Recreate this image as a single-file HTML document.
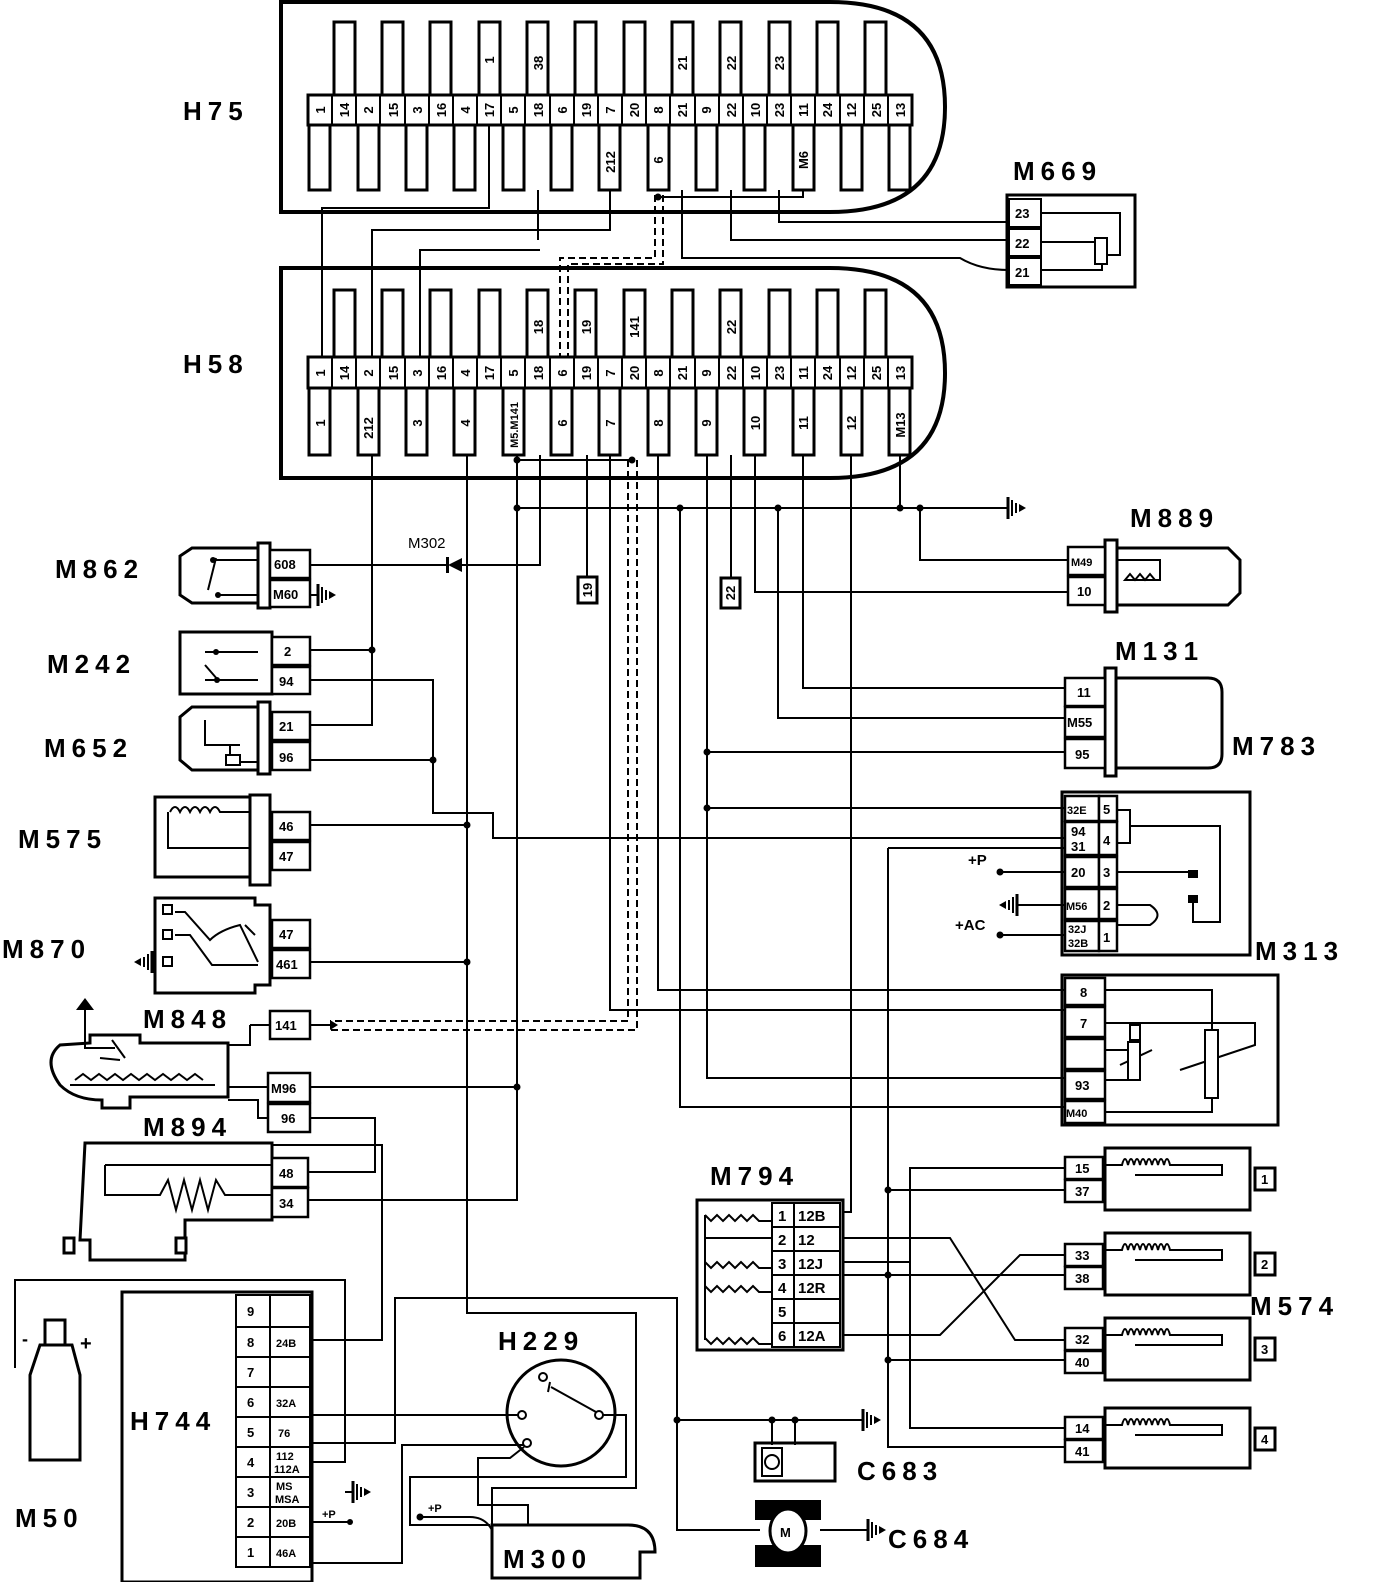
<!DOCTYPE html>
<html><head><meta charset="utf-8"><style>
body{margin:0;background:#fff}
svg{display:block}
text{font-family:"Liberation Sans",sans-serif;font-weight:bold;fill:#000}
.p{font-size:13px}
.L{font-size:26px;letter-spacing:6px}
.s{font-size:11px}
</style></head><body>
<svg width="1392" height="1582" viewBox="0 0 1392 1582" xmlns="http://www.w3.org/2000/svg">
<defs>
<g id="gr"><line x1="0" y1="0" x2="8" y2="0" stroke="#000" stroke-width="2"/><line x1="8" y1="-11" x2="8" y2="11" stroke="#000" stroke-width="3"/><line x1="12" y1="-8" x2="12" y2="8" stroke="#000" stroke-width="2"/><line x1="16" y1="-5" x2="16" y2="5" stroke="#000" stroke-width="2"/><path d="M19,-4 L26,0 L19,4Z" fill="#000"/></g>
</defs>
<rect width="1392" height="1582" fill="#fff"/>

<!-- H75 -->
<path d="M281,2 H830 Q945,2 945,107 Q945,212 830,212 H281 Z" fill="none" stroke="#000" stroke-width="4"/>
<g fill="#fff" stroke="#000" stroke-width="3">
<rect x="334" y="22" width="21" height="75"/><rect x="382" y="22" width="21" height="75"/><rect x="430" y="22" width="21" height="75"/><rect x="479" y="22" width="21" height="75"/><rect x="527" y="22" width="21" height="75"/><rect x="575" y="22" width="21" height="75"/><rect x="624" y="22" width="21" height="75"/><rect x="672" y="22" width="21" height="75"/><rect x="720" y="22" width="21" height="75"/><rect x="769" y="22" width="21" height="75"/><rect x="817" y="22" width="21" height="75"/><rect x="865" y="22" width="21" height="75"/>
<rect x="309" y="123" width="21" height="67"/><rect x="358" y="123" width="21" height="67"/><rect x="406" y="123" width="21" height="67"/><rect x="454" y="123" width="21" height="67"/><rect x="503" y="123" width="21" height="67"/><rect x="551" y="123" width="21" height="67"/><rect x="599" y="123" width="21" height="67"/><rect x="648" y="123" width="21" height="67"/><rect x="696" y="123" width="21" height="67"/><rect x="744" y="123" width="21" height="67"/><rect x="793" y="123" width="21" height="67"/><rect x="841" y="123" width="21" height="67"/><rect x="889" y="123" width="21" height="67"/>
<rect x="308" y="95" width="604" height="30"/>
</g>
<path d="M332,95V125M356,95V125M380,95V125M405,95V125M429,95V125M453,95V125M477,95V125M501,95V125M525,95V125M550,95V125M574,95V125M598,95V125M622,95V125M646,95V125M670,95V125M695,95V125M719,95V125M743,95V125M767,95V125M791,95V125M815,95V125M840,95V125M864,95V125M888,95V125" stroke="#000" stroke-width="2"/>
<g class="p" text-anchor="middle">
<text transform="translate(325,110) rotate(-90)">1</text><text transform="translate(349,110) rotate(-90)">14</text><text transform="translate(373,110) rotate(-90)">2</text><text transform="translate(398,110) rotate(-90)">15</text><text transform="translate(422,110) rotate(-90)">3</text><text transform="translate(446,110) rotate(-90)">16</text><text transform="translate(470,110) rotate(-90)">4</text><text transform="translate(494,110) rotate(-90)">17</text><text transform="translate(518,110) rotate(-90)">5</text><text transform="translate(543,110) rotate(-90)">18</text><text transform="translate(567,110) rotate(-90)">6</text><text transform="translate(591,110) rotate(-90)">19</text><text transform="translate(615,110) rotate(-90)">7</text><text transform="translate(639,110) rotate(-90)">20</text><text transform="translate(663,110) rotate(-90)">8</text><text transform="translate(687,110) rotate(-90)">21</text><text transform="translate(711,110) rotate(-90)">9</text><text transform="translate(736,110) rotate(-90)">22</text><text transform="translate(760,110) rotate(-90)">10</text><text transform="translate(784,110) rotate(-90)">23</text><text transform="translate(808,110) rotate(-90)">11</text><text transform="translate(832,110) rotate(-90)">24</text><text transform="translate(856,110) rotate(-90)">12</text><text transform="translate(881,110) rotate(-90)">25</text><text transform="translate(905,110) rotate(-90)">13</text>
<text transform="translate(494,60) rotate(-90)">1</text><text transform="translate(543,63) rotate(-90)">38</text><text transform="translate(687,63) rotate(-90)">21</text><text transform="translate(736,63) rotate(-90)">22</text><text transform="translate(784,63) rotate(-90)">23</text>
<text transform="translate(615,162) rotate(-90)">212</text><text transform="translate(663,160) rotate(-90)">6</text><text transform="translate(808,160) rotate(-90)">M6</text>
</g>
<text class="L" x="183" y="120">H75</text>

<!-- H58 -->
<path d="M281,268 H830 Q945,268 945,373 Q945,478 830,478 H281 Z" fill="none" stroke="#000" stroke-width="4"/>
<g fill="#fff" stroke="#000" stroke-width="3">
<rect x="334" y="290" width="21" height="69"/><rect x="382" y="290" width="21" height="69"/><rect x="430" y="290" width="21" height="69"/><rect x="479" y="290" width="21" height="69"/><rect x="527" y="290" width="21" height="69"/><rect x="575" y="290" width="21" height="69"/><rect x="624" y="290" width="21" height="69"/><rect x="672" y="290" width="21" height="69"/><rect x="720" y="290" width="21" height="69"/><rect x="769" y="290" width="21" height="69"/><rect x="817" y="290" width="21" height="69"/><rect x="865" y="290" width="21" height="69"/>
<rect x="309" y="386" width="21" height="69"/><rect x="358" y="386" width="21" height="69"/><rect x="406" y="386" width="21" height="69"/><rect x="454" y="386" width="21" height="69"/><rect x="503" y="386" width="21" height="69"/><rect x="551" y="386" width="21" height="69"/><rect x="599" y="386" width="21" height="69"/><rect x="648" y="386" width="21" height="69"/><rect x="696" y="386" width="21" height="69"/><rect x="744" y="386" width="21" height="69"/><rect x="793" y="386" width="21" height="69"/><rect x="841" y="386" width="21" height="69"/><rect x="889" y="386" width="21" height="69"/>
<rect x="308" y="357" width="604" height="31"/>
</g>
<path d="M332,357V388M356,357V388M380,357V388M405,357V388M429,357V388M453,357V388M477,357V388M501,357V388M525,357V388M550,357V388M574,357V388M598,357V388M622,357V388M646,357V388M670,357V388M695,357V388M719,357V388M743,357V388M767,357V388M791,357V388M815,357V388M840,357V388M864,357V388M888,357V388" stroke="#000" stroke-width="2"/>
<g class="p" text-anchor="middle">
<text transform="translate(325,373) rotate(-90)">1</text><text transform="translate(349,373) rotate(-90)">14</text><text transform="translate(373,373) rotate(-90)">2</text><text transform="translate(398,373) rotate(-90)">15</text><text transform="translate(422,373) rotate(-90)">3</text><text transform="translate(446,373) rotate(-90)">16</text><text transform="translate(470,373) rotate(-90)">4</text><text transform="translate(494,373) rotate(-90)">17</text><text transform="translate(518,373) rotate(-90)">5</text><text transform="translate(543,373) rotate(-90)">18</text><text transform="translate(567,373) rotate(-90)">6</text><text transform="translate(591,373) rotate(-90)">19</text><text transform="translate(615,373) rotate(-90)">7</text><text transform="translate(639,373) rotate(-90)">20</text><text transform="translate(663,373) rotate(-90)">8</text><text transform="translate(687,373) rotate(-90)">21</text><text transform="translate(711,373) rotate(-90)">9</text><text transform="translate(736,373) rotate(-90)">22</text><text transform="translate(760,373) rotate(-90)">10</text><text transform="translate(784,373) rotate(-90)">23</text><text transform="translate(808,373) rotate(-90)">11</text><text transform="translate(832,373) rotate(-90)">24</text><text transform="translate(856,373) rotate(-90)">12</text><text transform="translate(881,373) rotate(-90)">25</text><text transform="translate(905,373) rotate(-90)">13</text>
<text transform="translate(543,327) rotate(-90)">18</text><text transform="translate(591,327) rotate(-90)">19</text><text transform="translate(639,327) rotate(-90)">141</text><text transform="translate(736,327) rotate(-90)">22</text>
<text transform="translate(325,423) rotate(-90)">1</text><text transform="translate(373,428) rotate(-90)">212</text><text transform="translate(422,423) rotate(-90)">3</text><text transform="translate(470,423) rotate(-90)">4</text><text class="s" transform="translate(518,425) rotate(-90)">M5.M141</text><text transform="translate(567,423) rotate(-90)">6</text><text transform="translate(615,423) rotate(-90)">7</text><text transform="translate(663,423) rotate(-90)">8</text><text transform="translate(711,423) rotate(-90)">9</text><text transform="translate(760,423) rotate(-90)">10</text><text transform="translate(808,423) rotate(-90)">11</text><text transform="translate(856,423) rotate(-90)">12</text><text transform="translate(905,425) rotate(-90)">M13</text>
</g>
<text class="L" x="183" y="373">H58</text>

<!-- M669 -->
<rect x="1007" y="195" width="128" height="92" fill="none" stroke="#000" stroke-width="3"/>
<g fill="#fff" stroke="#000" stroke-width="2"><rect x="1009" y="199" width="32" height="28"/><rect x="1009" y="229" width="32" height="27"/><rect x="1009" y="258" width="32" height="27"/></g>
<g class="p"><text x="1015" y="218">23</text><text x="1015" y="248">22</text><text x="1015" y="277">21</text></g>
<path d="M1041,213 H1120 V255 H1108 M1041,242 H1095 M1041,270 H1102 V263" fill="none" stroke="#000" stroke-width="2"/>
<rect x="1095" y="238" width="12" height="26" fill="#fff" stroke="#000" stroke-width="2"/>
<text class="L" x="1013" y="180">M669</text>

<!-- wires -->
<g fill="none" stroke="#000" stroke-width="2">
<path d="M489,125V208H322V357M538,190V240M610,190V230H372V357M420,357V250H540M803,190V197H658M779,190V222H1009M731,190V240H1009M682,190V258H960Q980,270 1009,270"/>
<path d="M372,455V725H310M310,650H372M467,455V1313H636V1488H492V1505M310,825H467M310,962H467M517,455V1200H308M517,460H632M310,1087H517M540,455V565H462M448,565H310M517,508H1000M587,455V577M610,455V1010H1065M658,455V990H1065M680,508V1107H1065M707,455V1078H1065M707,752H1065M707,808H1065M731,455V578M755,455V592H1068M778,508V718H1065M803,455V688H1065M851,455V1212H843M900,455V508M920,508V560H1068"/>
<path d="M310,680H433V813H493V838H1065M310,760H433M888,848H1065M1000,872H1065M1025,905H1065M1000,935H1065"/>
<path d="M888,848V1447H1065M888,1190H1065M888,1275H1065M888,1360H1065M1065,1168H910V1428H1065"/>
<path d="M843,1238H950L1015,1340H1065M843,1335H940L1020,1255H1065M843,1262H910M843,1275H888"/>
<path d="M310,1118H375V1172H308M250,1025H270M250,1025V1045H228M310,1025H330M268,1087H228M268,1118H258V1100H228M270,1145H382V1340H312"/>
<path d="M15,1368V1280H345V1462H312M312,1415H518M312,1443H395V1298H677V1530H760M312,1563H402V1445H523M312,1522H350M603,1415H626V1477H410V1525H490M420,1517H470Q485,1517 492,1530M524,1447L510,1458H478V1505H492"/>
<path d="M677,1420H855M772,1420V1445M795,1420V1445M820,1530H860"/>
</g>
<g fill="none" stroke="#000" stroke-width="2" stroke-dasharray="7,4">
<path d="M655,195V258H560V357M663,195V264H568V357M628,460V1021H330M637,460V1030H330"/>
</g>
<g fill="#000">
<circle cx="658" cy="197" r="3.5"/><circle cx="372" cy="650" r="3.5"/><circle cx="467" cy="825" r="3.5"/><circle cx="467" cy="962" r="3.5"/><circle cx="517" cy="460" r="3.5"/><circle cx="517" cy="508" r="3.5"/><circle cx="517" cy="1087" r="3.5"/><circle cx="632" cy="460" r="3.5"/><circle cx="680" cy="508" r="3.5"/><circle cx="778" cy="508" r="3.5"/><circle cx="900" cy="508" r="3.5"/><circle cx="920" cy="508" r="3.5"/><circle cx="707" cy="752" r="3.5"/><circle cx="707" cy="808" r="3.5"/><circle cx="433" cy="760" r="3.5"/><circle cx="1000" cy="872" r="3.5"/><circle cx="1000" cy="935" r="3.5"/><circle cx="888" cy="1190" r="3.5"/><circle cx="888" cy="1275" r="3.5"/><circle cx="888" cy="1360" r="3.5"/><circle cx="677" cy="1420" r="3.5"/><circle cx="772" cy="1420" r="3.5"/><circle cx="795" cy="1420" r="3.5"/><circle cx="350" cy="1522" r="3"/><circle cx="420" cy="1517" r="3.5"/>
<path d="M462,558 V572 L448,565Z"/><rect x="446" y="557" width="3" height="16"/>
<path d="M330,1020 L338,1025 L330,1030Z"/>
</g>
<use href="#gr" x="1000" y="508"/><use href="#gr" x="310" y="595"/><use href="#gr" x="855" y="1420"/><use href="#gr" x="860" y="1530"/><use href="#gr" x="345" y="1492"/>
<use href="#gr" transform="translate(1025,905) scale(-1,1)"/><use href="#gr" transform="translate(160,962) scale(-1,1)"/>
<text class="p" x="408" y="548" style="font-weight:normal;font-size:15px">M302</text>
<rect x="578" y="577" width="19" height="26" fill="#fff" stroke="#000" stroke-width="3"/><text class="p" transform="translate(592,590) rotate(-90)" text-anchor="middle">19</text>
<rect x="721" y="578" width="19" height="30" fill="#fff" stroke="#000" stroke-width="3"/><text class="p" transform="translate(735,593) rotate(-90)" text-anchor="middle">22</text>

<!-- left connectors -->
<g fill="#fff" stroke="#000" stroke-width="3">
<path d="M192,548 H258 V603 H192 L180,595 V556Z"/><rect x="258" y="543" width="12" height="65"/>
<rect x="180" y="632" width="92" height="62"/>
<path d="M192,707 H258 V770 H192 L180,760 V717Z"/><rect x="258" y="702" width="12" height="72"/>
<rect x="155" y="797" width="95" height="80"/><rect x="250" y="795" width="20" height="90"/>
<path d="M155,898 H255 V905 H270 V985 H255 V993 H155Z"/>
<path d="M85,1143 H272 V1220 H185 V1260 H90 V1240 H80 Z"/>
<path d="M60,1045 Q42,1060 60,1085 Q75,1100 102,1100 V1108 H130 V1097 H228 V1043 H140 V1035 H90 V1043 Z"/>
<rect x="64" y="1238" width="10" height="15"/><rect x="176" y="1238" width="10" height="15"/>
</g>
<g fill="#fff" stroke="#000" stroke-width="2.5">
<rect x="270" y="550" width="40" height="28"/><rect x="270" y="580" width="40" height="27"/>
<rect x="272" y="637" width="38" height="28"/><rect x="272" y="667" width="38" height="27"/>
<rect x="272" y="712" width="38" height="28"/><rect x="272" y="742" width="38" height="28"/>
<rect x="272" y="812" width="38" height="28"/><rect x="272" y="842" width="38" height="28"/>
<rect x="272" y="920" width="38" height="28"/><rect x="272" y="950" width="38" height="28"/>
<rect x="270" y="1011" width="40" height="28"/><rect x="268" y="1073" width="42" height="29"/><rect x="268" y="1104" width="42" height="28"/>
<rect x="272" y="1158" width="36" height="29"/><rect x="272" y="1188" width="36" height="29"/>
</g>
<g class="p">
<text x="274" y="569">608</text><text x="273" y="599">M60</text><text x="284" y="656">2</text><text x="279" y="686">94</text><text x="279" y="731">21</text><text x="279" y="762">96</text><text x="279" y="831">46</text><text x="279" y="861">47</text><text x="279" y="939">47</text><text x="276" y="969">461</text><text x="275" y="1030">141</text><text x="271" y="1093">M96</text><text x="281" y="1123">96</text><text x="279" y="1178">48</text><text x="279" y="1208">34</text>
</g>
<g fill="none" stroke="#000" stroke-width="2">
<path d="M216,558 L208,590 M212,560 H258 M218,595 H258 M205,652 H258 M205,680 H258 M205,665 L218,680 M205,720 V745 H230 V758 M215,745 H240 M240,762 H258 M170,812 q5,-10 10,0 q5,-10 10,0 q5,-10 10,0 q5,-10 10,0 q5,-10 10,0 H250 M168,812 V848 H250 M175,912 H185 L210,940 Q220,930 240,925 L258,962 M175,935 H190 L212,965 H258 M245,925 L255,935 M105,1165 H272 M105,1165 V1195 H160 L168,1180 L176,1210 L184,1180 L192,1210 L200,1180 L208,1210 L216,1180 L225,1195 H272 M70,1085 H215 M75,1080 l8,-6 l8,6 l8,-6 l8,6 l8,-6 l8,6 l8,-6 l8,6 l8,-6 l8,6 l8,-6 l8,6 l8,-6 l8,6 l8,-6 l8,6 M85,1010 V1048 H115 M112,1040 L125,1058 M100,1058 L120,1060"/>
</g>
<g fill="#000"><circle cx="213" cy="560" r="3"/><circle cx="218" cy="595" r="3"/><circle cx="216" cy="652" r="3"/><circle cx="217" cy="680" r="3"/><path d="M76,1010 L85,998 L94,1010Z"/></g>
<g fill="#fff" stroke="#000" stroke-width="2"><rect x="163" y="905" width="9" height="9"/><rect x="163" y="930" width="9" height="9"/><rect x="163" y="957" width="9" height="9"/><rect x="226" y="755" width="14" height="10"/></g>
<g class="L"><text x="55" y="578">M862</text><text x="47" y="673">M242</text><text x="44" y="757">M652</text><text x="18" y="848">M575</text><text x="2" y="958">M870</text><text x="143" y="1028">M848</text><text x="143" y="1136">M894</text><text x="130" y="1430">H744</text><text x="15" y="1527">M50</text><text x="498" y="1350">H229</text><text x="1130" y="527">M889</text><text x="1115" y="660">M131</text><text x="1232" y="755">M783</text><text x="1255" y="960">M313</text><text x="710" y="1185">M794</text><text x="1250" y="1315">M574</text><text x="857" y="1480">C683</text><text x="888" y="1548">C684</text></g>

<!-- M889 -->
<g fill="#fff" stroke="#000" stroke-width="3"><path d="M1117,548 H1228 L1240,560 V593 L1228,605 H1117Z"/><rect x="1105" y="540" width="12" height="72"/></g>
<g fill="#fff" stroke="#000" stroke-width="2.5"><rect x="1068" y="547" width="37" height="28"/><rect x="1068" y="577" width="37" height="28"/></g>
<g class="p"><text x="1071" y="566" class="s">M49</text><text x="1077" y="596">10</text></g>
<path d="M1117,560 H1160 V580 H1125 l5,-6 l5,6 l5,-6 l5,6 l5,-6 l5,6" fill="none" stroke="#000" stroke-width="2"/>

<!-- M131/M783 -->
<g fill="#fff" stroke="#000" stroke-width="3"><path d="M1115,678 H1208 Q1222,678 1222,692 V754 Q1222,768 1208,768 H1115Z"/><rect x="1105" y="668" width="11" height="108"/></g>
<g fill="#fff" stroke="#000" stroke-width="2.5"><rect x="1065" y="678" width="40" height="28"/><rect x="1065" y="707" width="40" height="30"/><rect x="1065" y="739" width="40" height="29"/></g>
<g class="p"><text x="1077" y="697">11</text><text x="1067" y="727">M55</text><text x="1075" y="759">95</text></g>

<!-- M313 -->
<rect x="1062" y="792" width="188" height="163" fill="none" stroke="#000" stroke-width="3"/>
<g fill="#fff" stroke="#000" stroke-width="2.5"><rect x="1065" y="796" width="34" height="25"/><rect x="1099" y="796" width="18" height="25"/><rect x="1065" y="822" width="34" height="33"/><rect x="1099" y="822" width="18" height="33"/><rect x="1065" y="857" width="34" height="30"/><rect x="1099" y="857" width="18" height="30"/><rect x="1065" y="889" width="34" height="30"/><rect x="1099" y="889" width="18" height="30"/><rect x="1065" y="921" width="34" height="30"/><rect x="1099" y="921" width="18" height="30"/></g>
<g class="p"><text x="1067" y="814" class="s">32E</text><text x="1103" y="814">5</text><text x="1071" y="836">94</text><text x="1071" y="851">31</text><text x="1103" y="845">4</text><text x="1071" y="877">20</text><text x="1103" y="877">3</text><text x="1066" y="910" class="s">M56</text><text x="1103" y="910">2</text><text x="1068" y="933" class="s">32J</text><text x="1068" y="947" class="s">32B</text><text x="1103" y="942">1</text></g>
<path d="M1117,810 H1130 V843 H1117 M1130,826 H1220 V922 H1193 V900 M1117,872 H1195 M1117,905 H1150 Q1165,915 1150,925 H1117" fill="none" stroke="#000" stroke-width="2"/>
<rect x="1188" y="870" width="10" height="8" fill="#000"/><rect x="1188" y="895" width="10" height="8" fill="#000"/>
<g class="p" style="font-size:15px"><text x="968" y="865">+P</text><text x="955" y="930">+AC</text></g>

<!-- valve box -->
<rect x="1062" y="975" width="216" height="150" fill="none" stroke="#000" stroke-width="3"/>
<g fill="#fff" stroke="#000" stroke-width="2.5"><rect x="1065" y="978" width="40" height="27"/><rect x="1065" y="1007" width="40" height="30"/><rect x="1065" y="1039" width="40" height="30"/><rect x="1065" y="1071" width="40" height="28"/><rect x="1065" y="1101" width="40" height="22"/></g>
<g class="p"><text x="1080" y="997">8</text><text x="1080" y="1028">7</text><text x="1075" y="1090">93</text><text x="1066" y="1117" class="s">M40</text></g>
<path d="M1105,990 H1212 V1030 M1105,1023 H1255 V1045 L1180,1070 M1105,1050 H1135 M1105,1080 H1135 V1070 M1105,1112 H1212 V1098 M1120,1065 L1152,1050" fill="none" stroke="#000" stroke-width="2"/>
<g fill="#fff" stroke="#000" stroke-width="2"><rect x="1130" y="1025" width="10" height="15"/><rect x="1128" y="1042" width="12" height="38"/><rect x="1205" y="1030" width="13" height="68"/></g>

<!-- M794 -->
<rect x="697" y="1200" width="146" height="150" fill="none" stroke="#000" stroke-width="3"/>
<g fill="#fff" stroke="#000" stroke-width="2"><rect x="772" y="1203" width="22" height="24"/><rect x="794" y="1203" width="46" height="24"/><rect x="772" y="1227" width="22" height="24"/><rect x="794" y="1227" width="46" height="24"/><rect x="772" y="1251" width="22" height="24"/><rect x="794" y="1251" width="46" height="24"/><rect x="772" y="1275" width="22" height="24"/><rect x="794" y="1275" width="46" height="24"/><rect x="772" y="1299" width="22" height="24"/><rect x="794" y="1299" width="46" height="24"/><rect x="772" y="1323" width="22" height="24"/><rect x="794" y="1323" width="46" height="24"/></g>
<g class="p" style="font-size:15px;font-weight:normal"><text x="778" y="1221">1</text><text x="798" y="1221">12B</text><text x="778" y="1245">2</text><text x="798" y="1245">12</text><text x="778" y="1269">3</text><text x="798" y="1269">12J</text><text x="778" y="1293">4</text><text x="798" y="1293">12R</text><text x="778" y="1317">5</text><text x="778" y="1341">6</text><text x="798" y="1341">12A</text></g>
<path d="M705,1215 V1340 M705,1215 l6,6 l6,-6 l6,6 l6,-6 l6,6 l6,-6 l6,6 l6,-6 l6,6 H772 M705,1238 H772 M705,1262 l6,6 l6,-6 l6,6 l6,-6 l6,6 l6,-6 l6,6 l6,-6 l6,6 H772 M705,1286 l6,6 l6,-6 l6,6 l6,-6 l6,6 l6,-6 l6,6 l6,-6 l6,6 H772 M705,1338 l6,6 l6,-6 l6,6 l6,-6 l6,6 l6,-6 l6,6 l6,-6 l6,6 H772" fill="none" stroke="#000" stroke-width="2"/>

<!-- M574 -->
<g fill="#fff" stroke="#000" stroke-width="3">
<rect x="1105" y="1148" width="145" height="62"/><rect x="1105" y="1233" width="145" height="62"/><rect x="1105" y="1318" width="145" height="62"/><rect x="1105" y="1408" width="145" height="60"/>
<rect x="1255" y="1168" width="20" height="22"/><rect x="1255" y="1253" width="20" height="22"/><rect x="1255" y="1338" width="20" height="22"/><rect x="1255" y="1428" width="20" height="22"/>
</g>
<g fill="#fff" stroke="#000" stroke-width="2.5">
<rect x="1065" y="1157" width="38" height="22"/><rect x="1065" y="1180" width="38" height="22"/><rect x="1065" y="1244" width="38" height="22"/><rect x="1065" y="1267" width="38" height="22"/><rect x="1065" y="1328" width="38" height="22"/><rect x="1065" y="1351" width="38" height="22"/><rect x="1065" y="1417" width="38" height="22"/><rect x="1065" y="1440" width="38" height="22"/>
</g>
<g class="p"><text x="1075" y="1173">15</text><text x="1075" y="1196">37</text><text x="1075" y="1260">33</text><text x="1075" y="1283">38</text><text x="1075" y="1344">32</text><text x="1075" y="1367">40</text><text x="1075" y="1433">14</text><text x="1075" y="1456">41</text>
<text x="1261" y="1184">1</text><text x="1261" y="1269">2</text><text x="1261" y="1354">3</text><text x="1261" y="1444">4</text></g>
<g fill="none" stroke="#000" stroke-width="2">
<path d="M1105,1165 H1122 q3,-12 6,0 q3,-12 6,0 q3,-12 6,0 q3,-12 6,0 q3,-12 6,0 q3,-12 6,0 q3,-12 6,0 q3,-12 6,0 H1222 V1175 H1135"/>
<path d="M1105,1250 H1122 q3,-12 6,0 q3,-12 6,0 q3,-12 6,0 q3,-12 6,0 q3,-12 6,0 q3,-12 6,0 q3,-12 6,0 q3,-12 6,0 H1222 V1260 H1135"/>
<path d="M1105,1335 H1122 q3,-12 6,0 q3,-12 6,0 q3,-12 6,0 q3,-12 6,0 q3,-12 6,0 q3,-12 6,0 q3,-12 6,0 q3,-12 6,0 H1222 V1345 H1135"/>
<path d="M1105,1425 H1122 q3,-12 6,0 q3,-12 6,0 q3,-12 6,0 q3,-12 6,0 q3,-12 6,0 q3,-12 6,0 q3,-12 6,0 q3,-12 6,0 H1222 V1435 H1135"/>
</g>

<!-- H744 -->
<rect x="122" y="1292" width="190" height="290" fill="none" stroke="#000" stroke-width="3"/>
<g fill="#fff" stroke="#000" stroke-width="2"><rect x="236" y="1295" width="34" height="32"/><rect x="270" y="1295" width="40" height="32"/><rect x="236" y="1327" width="34" height="30"/><rect x="270" y="1327" width="40" height="30"/><rect x="236" y="1357" width="34" height="30"/><rect x="270" y="1357" width="40" height="30"/><rect x="236" y="1387" width="34" height="30"/><rect x="270" y="1387" width="40" height="30"/><rect x="236" y="1417" width="34" height="30"/><rect x="270" y="1417" width="40" height="30"/><rect x="236" y="1447" width="34" height="30"/><rect x="270" y="1447" width="40" height="30"/><rect x="236" y="1477" width="34" height="30"/><rect x="270" y="1477" width="40" height="30"/><rect x="236" y="1507" width="34" height="30"/><rect x="270" y="1507" width="40" height="30"/><rect x="236" y="1537" width="34" height="30"/><rect x="270" y="1537" width="40" height="30"/></g>
<g class="p"><text x="247" y="1316">9</text><text x="247" y="1347">8</text><text x="276" y="1347" class="s">24B</text><text x="247" y="1377">7</text><text x="247" y="1407">6</text><text x="276" y="1407" class="s">32A</text><text x="247" y="1437">5</text><text x="278" y="1437" class="s">76</text><text x="247" y="1467">4</text><text x="276" y="1460" class="s">112</text><text x="274" y="1473" class="s">112A</text><text x="247" y="1497">3</text><text x="276" y="1490" class="s">MS</text><text x="275" y="1503" class="s">MSA</text><text x="247" y="1527">2</text><text x="276" y="1527" class="s">20B</text><text x="247" y="1557">1</text><text x="276" y="1557" class="s">46A</text><text x="322" y="1518" class="s">+P</text><text x="428" y="1512" class="s">+P</text></g>

<!-- M50 battery -->
<g fill="#fff" stroke="#000" stroke-width="3"><rect x="45" y="1320" width="20" height="25"/><path d="M40,1345 H72 L80,1375 V1460 H30 V1375Z"/></g>
<text x="22" y="1345" class="p" style="font-size:18px">-</text><text x="80" y="1350" class="p" style="font-size:20px">+</text>

<!-- H229 -->
<ellipse cx="561" cy="1413" rx="54" ry="53" fill="none" stroke="#000" stroke-width="3"/>
<g fill="#fff" stroke="#000" stroke-width="2"><circle cx="543" cy="1377" r="4"/><circle cx="599" cy="1415" r="4"/><circle cx="522" cy="1415" r="4"/><circle cx="527" cy="1443" r="4"/></g>
<path d="M551,1387 L596,1412 M550,1382 L548,1392" fill="none" stroke="#000" stroke-width="2"/>

<!-- M300 -->
<path d="M492,1525 H628 Q655,1525 655,1552 H640 V1578 H492Z" fill="#fff" stroke="#000" stroke-width="3"/>
<rect x="492" y="1505" width="36" height="20" fill="none" stroke="#000" stroke-width="2"/>
<text class="L" x="503" y="1568">M300</text>

<!-- C683 / C684 -->
<rect x="755" y="1443" width="80" height="38" fill="none" stroke="#000" stroke-width="3"/>
<rect x="762" y="1448" width="20" height="28" fill="#fff" stroke="#000" stroke-width="2"/>
<circle cx="772" cy="1462" r="7" fill="none" stroke="#000" stroke-width="2"/>
<rect x="755" y="1500" width="66" height="20" fill="#000"/><rect x="755" y="1545" width="66" height="22" fill="#000"/>
<ellipse cx="788" cy="1531" rx="18" ry="22" fill="#fff" stroke="#000" stroke-width="3"/>
<text class="p" x="780" y="1537">M</text>
</svg>
</body></html>
